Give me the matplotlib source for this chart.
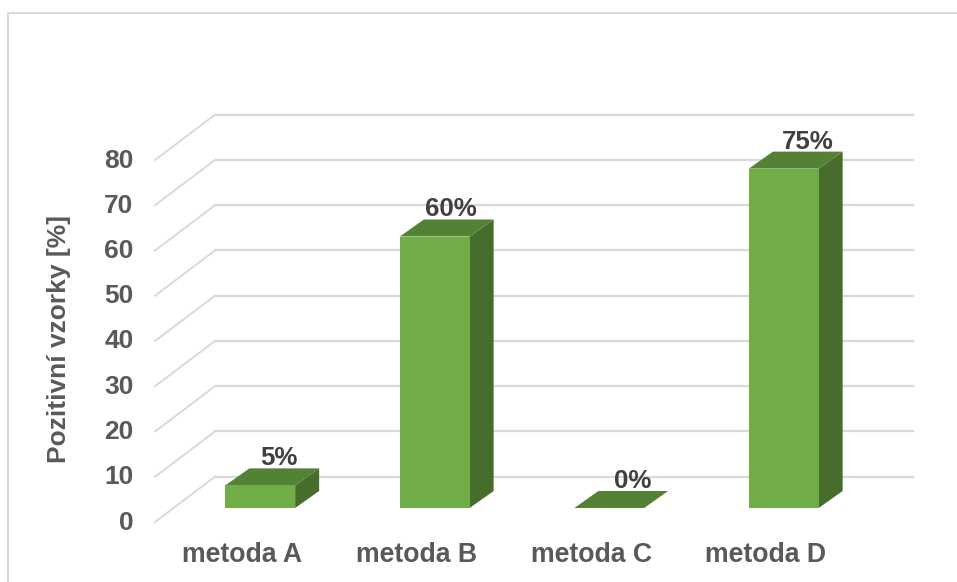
import matplotlib
matplotlib.use("Agg")
import matplotlib.pyplot as plt
from matplotlib.patches import Polygon, Rectangle
from matplotlib.transforms import Affine2D

plt.rcParams["font.family"] = ["Liberation Sans", "DejaVu Sans"]

# Data
categories = ["metoda A", "metoda B", "metoda C", "metoda D"]
values = [5, 60, 0, 75]
y_ticks = [0, 10, 20, 30, 40, 50, 60, 70, 80]

W, H = 957, 582
FRONT = "#70ad47"
TOP = "#548235"
SIDE = "#476d2c"
GRID = "#d9d9d9"
AXIS_TEXT = "#595959"
VALUE_TEXT = "#404040"

fig = plt.figure(figsize=(W / 100, H / 100), dpi=100, facecolor="white")

# Chart frame: only the top and left edges are inside the canvas
frame = fig.add_axes([0, 0, 1, 1], zorder=0)
frame.set_xlim(0, W)
frame.set_ylim(H, 0)
frame.axis("off")
frame.plot([8, 8, W], [H, 12.5, 12.5], color=GRID, lw=1.4, solid_joinstyle="miter")

# Main axes span the front edge of the floor
left, right, bottom, top = 155, 853, 522, 160
ax = fig.add_axes([left / W, 1 - bottom / H, (right - left) / W, (bottom - top) / H], zorder=1)
ax.patch.set_alpha(0)
ax.set_xlim(-0.5, 3.5)
ax.set_ylim(0, 80)
for s in ax.spines.values():
    s.set_visible(False)


def shifted(dx, dy):
    """Data transform displaced by a number of pixels (for the depth effect)."""
    return ax.transData + Affine2D().translate(dx, dy)


# Receding gridlines on the side wall and along the back wall
wall_dx, wall_dy = 60, 45.3
for v in y_ticks:
    x0, y0 = ax.transData.transform((-0.5, v))
    ax.plot([x0, x0 + wall_dx], [y0, y0 + wall_dy], color=GRID, lw=1.4,
            transform=None, clip_on=False, zorder=1)
    ax.plot([-0.5, 3.5], [v, v], color=GRID, lw=1.6,
            transform=shifted(wall_dx, wall_dy), clip_on=False, zorder=1)

# 3D-looking columns: front, top and side faces
bar_half = 0.2
bar_dx, bar_dy = 18, 14
depth_dx, depth_dy = 24, 17
label_dx = [19, 16, 23, 24]
for i, v in enumerate(values):
    front = shifted(bar_dx, bar_dy)
    xl, xr = i - bar_half, i + bar_half
    to_pix = front.transform
    br = to_pix((xr, 0))
    tl, tr = to_pix((xl, v)), to_pix((xr, v))
    d = (depth_dx, depth_dy)
    top_face = [tl, tr, tr + d, tl + d]
    side_face = [br, br + d, tr + d, tr]
    ax.add_patch(Polygon(side_face, closed=True, transform=None, fc=SIDE, ec="none",
                         clip_on=False, zorder=3))
    ax.add_patch(Polygon(top_face, closed=True, transform=None, fc=TOP, ec="none",
                         clip_on=False, zorder=3))
    ax.add_patch(Rectangle((xl, 0), xr - xl, v, transform=front, fc=FRONT, ec="none",
                           clip_on=False, zorder=4))
    ax.text(i, v, f"{v}%", transform=shifted(bar_dx + label_dx[i], bar_dy + 27), ha="center",
            va="center", fontsize=18.6, fontweight="bold", color=VALUE_TEXT, zorder=5)

ax.set_xticks(range(len(categories)), categories)
ax.set_yticks(y_ticks)
ax.tick_params(axis="both", length=0, labelcolor=AXIS_TEXT)
ax.tick_params(axis="y", pad=15.5, labelsize=19)
ax.tick_params(axis="x", pad=14.7, labelsize=19.2)
for lab in ax.get_xticklabels():
    lab.set_fontweight("bold")
for lab in ax.get_yticklabels():
    lab.set_fontweight("bold")
    lab.set_transform(lab.get_transform() + Affine2D().translate(0, 2))

ax.set_ylabel("Pozitivní vzorky [%]", fontsize=19, fontweight="bold", color=AXIS_TEXT)
ax.yaxis.set_label_coords((71 - left) / (right - left), (bottom - 338.5) / (bottom - top))

fig.savefig("out.png", dpi=100)
